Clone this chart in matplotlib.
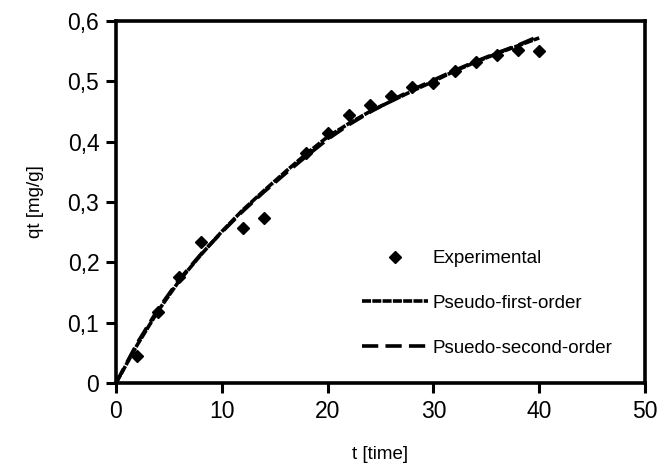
import matplotlib
matplotlib.use("Agg")
import matplotlib.pyplot as plt

plt.rcParams['font.family'] = ['Liberation Sans', 'DejaVu Sans']

# Experimental data
t_exp = [2, 4, 6, 8, 12, 14, 18, 20, 22, 24, 26, 28, 30, 32, 34, 36, 38, 40]
q_exp = [0.045, 0.117, 0.176, 0.233, 0.257, 0.273, 0.382, 0.414, 0.445, 0.460,
         0.476, 0.490, 0.498, 0.517, 0.532, 0.543, 0.552, 0.550]

# Model curves
t_model = [0, 2, 4, 6, 8, 10, 12, 14, 16, 18, 20, 22, 24, 26, 28, 30, 32, 34, 36, 38, 40]
q_first = [0, 0.063, 0.120, 0.170, 0.212, 0.251, 0.287, 0.319, 0.350, 0.380, 0.408,
           0.430, 0.450, 0.467, 0.484, 0.500, 0.517, 0.532, 0.546, 0.559, 0.572]
q_second = [0, 0.066, 0.123, 0.172, 0.213, 0.250, 0.285, 0.317, 0.347, 0.376, 0.404,
            0.428, 0.449, 0.468, 0.486, 0.502, 0.518, 0.533, 0.547, 0.560, 0.575]

x_ticks = [0, 10, 20, 30, 40, 50]
y_ticks = [0, 0.1, 0.2, 0.3, 0.4, 0.5, 0.6]
y_ticklabels = ['0', '0,1', '0,2', '0,3', '0,4', '0,5', '0,6']

fig = plt.figure(figsize=(6.58, 4.66), dpi=100)
ax = fig.add_axes([116/658, 83/466, (645-116)/658, (383-21)/466])

ax.plot(t_exp, q_exp, linestyle='none', marker='D', markersize=6.5,
        color='black', label='Experimental', zorder=3)
ax.plot(t_model, q_first, color='black', linewidth=2.6,
        dashes=(2.5, 0.35), label='Pseudo-first-order', zorder=2)
ax.plot(t_model, q_second, color='black', linewidth=2.6,
        dashes=(4.5, 2), label='Psuedo-second-order', zorder=2)

ax.set_xlim(0, 50)
ax.set_ylim(0, 0.6)
ax.set_xticks(x_ticks)
ax.set_yticks(y_ticks)
ax.set_yticklabels(y_ticklabels)

for s in ax.spines.values():
    s.set_linewidth(2.6)
ax.tick_params(axis='both', direction='out', length=7, width=2.2,
               labelsize=16.5)
ax.tick_params(axis='y', pad=5)
ax.tick_params(axis='x', pad=5)

ax.set_xlabel('t [time]', fontsize=13.5, labelpad=17)
ax.set_ylabel('qt [mg/g]', fontsize=13.5, labelpad=17)

leg = ax.legend(loc='upper left', bbox_to_anchor=(0.465, 0.367),
                frameon=False, fontsize=13.5, handlelength=3.5,
                handletextpad=0.25, labelspacing=1.47, borderpad=0,
                borderaxespad=0, markerscale=1.0)

fig.savefig('out.png', dpi=100)
